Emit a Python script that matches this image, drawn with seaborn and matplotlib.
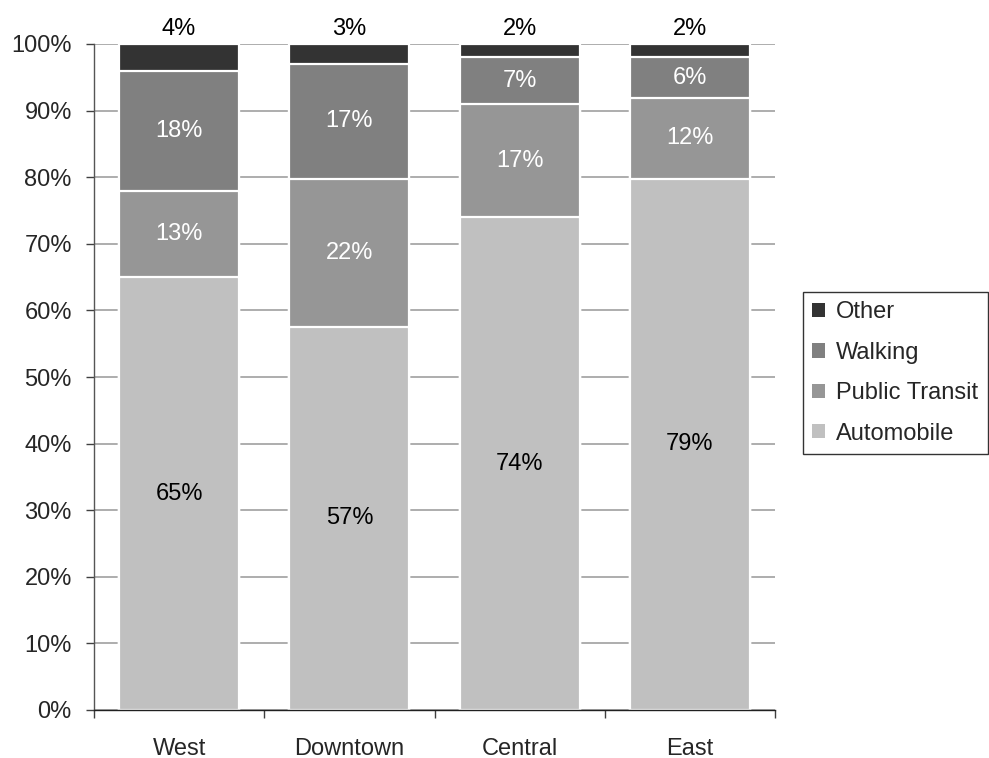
import numpy as np
import pandas as pd
import matplotlib
matplotlib.use("Agg")
import matplotlib.pyplot as plt
from matplotlib.patches import Patch
import seaborn as sns

# Commute mode share by district (percent)
districts = ["West", "Downtown", "Central", "East"]
automobile = [65, 57, 74, 79]
public_transit = [13, 22, 17, 12]
walking = [18, 17, 7, 6]
other = [4, 3, 2, 2]

modes = ["Automobile", "Public Transit", "Walking", "Other"]
colors = {"Automobile": "#c0c0c0", "Public Transit": "#969696",
          "Walking": "#808080", "Other": "#333333"}
text_colors = {"Automobile": "black", "Public Transit": "white",
               "Walking": "white", "Other": "black"}

df = pd.DataFrame({"district": districts, "Automobile": automobile,
                   "Public Transit": public_transit, "Walking": walking,
                   "Other": other})
# 100% stacked: normalise every district to its total
totals = df[modes].sum(axis=1)
share = df[modes].div(totals, axis=0) * 100
cum = share.cumsum(axis=1)
base = cum - share

sns.set_style("white")
plt.rcParams["font.family"] = ["Liberation Sans", "DejaVu Sans"]
FS = 17

fig = plt.figure(figsize=(9.89, 7.58), dpi=100)
ax = fig.add_axes([94 / 989, 1 - 710 / 758, (775 - 94) / 989, (710 - 44) / 758])

# draw cumulative heights from the top layer down so each segment shows
for m in reversed(modes):
    sns.barplot(x=df["district"], y=cum[m], color=colors[m], ax=ax,
                width=0.705, edgecolor="white", linewidth=1.6,
                saturation=1, zorder=2)

# segment labels
for i in range(len(districts)):
    for m in modes:
        val = df.loc[i, m]
        if m == "Other":
            ax.annotate(f"{val}%", (i, 100), xytext=(0, 11),
                        textcoords="offset points", ha="center", va="center",
                        fontsize=FS, color=text_colors[m], annotation_clip=False)
        else:
            y = base.loc[i, m] + share.loc[i, m] / 2
            ax.text(i, y, f"{val}%", ha="center", va="center",
                    fontsize=FS, color=text_colors[m], zorder=5)

ax.set_ylim(0, 100)
ax.set_xlim(-0.5, len(districts) - 0.5)
ax.set_yticks(np.arange(0, 101, 10))
ax.set_yticklabels([f"{t}%" for t in range(0, 101, 10)], fontsize=FS)
ax.yaxis.grid(True, color="#a0a0a0", linewidth=1.2, zorder=0)
ax.set_axisbelow(True)

# category boundaries as major ticks, names as minor-tick labels
ax.set_xticks(np.arange(-0.5, len(districts), 1))
ax.set_xticklabels([])
ax.set_xticks(np.arange(len(districts)), minor=True)
ax.set_xticklabels(districts, minor=True, fontsize=FS)
ax.tick_params(axis="x", which="major", bottom=True, length=6, width=1,
               color="#404040", direction="out")
ax.tick_params(axis="x", which="minor", bottom=True, length=0, pad=20)
ax.tick_params(axis="y", left=True, length=6, width=1, color="#404040",
               direction="out", pad=10)
ax.set_xlabel("")
ax.set_ylabel("")

for s in ["top", "right"]:
    ax.spines[s].set_visible(False)
ax.spines["left"].set_color("#555555")
ax.spines["bottom"].set_color("#202020")
ax.spines["left"].set_linewidth(1)
ax.spines["bottom"].set_linewidth(1)
ax.spines["left"].set_zorder(3)
ax.spines["bottom"].set_zorder(6)

handles = [Patch(facecolor=colors[m], edgecolor="none", label=m)
           for m in reversed(modes)]
leg = fig.legend(handles=handles, loc="upper left",
                 bbox_to_anchor=(803 / 989, 1 - 292 / 758), fontsize=FS,
                 frameon=True, fancybox=False, edgecolor="black",
                 handlelength=0.55, handleheight=0.55, handletextpad=0.45,
                 labelspacing=0.78, borderpad=0.4, borderaxespad=0)
leg.get_frame().set_linewidth(1)

fig.savefig("out.png", dpi=100, facecolor="white")
